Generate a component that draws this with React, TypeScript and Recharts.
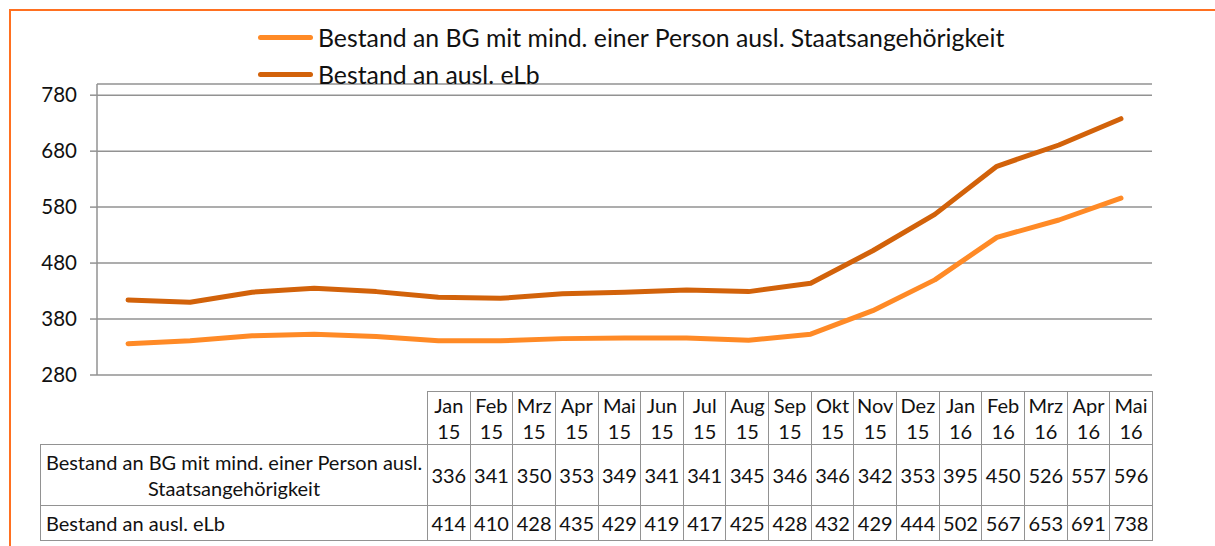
import { CartesianGrid, Line, LineChart, XAxis, YAxis } from "recharts";

const months = [
  "Jan 15", "Feb 15", "Mrz 15", "Apr 15", "Mai 15", "Jun 15", "Jul 15", "Aug 15", "Sep 15",
  "Okt 15", "Nov 15", "Dez 15", "Jan 16", "Feb 16", "Mrz 16", "Apr 16", "Mai 16",
];
const bgValues = [336, 341, 350, 353, 349, 341, 341, 345, 346, 346, 342, 353, 395, 450, 526, 557, 596];
const elbValues = [414, 410, 428, 435, 429, 419, 417, 425, 428, 432, 429, 444, 502, 567, 653, 691, 738];
const yTicks = [280, 380, 480, 580, 680, 780];

const series = [
  { key: "bg", name: "Bestand an BG mit mind. einer Person ausl. Staatsangehörigkeit", color: "#FF8A26", values: bgValues },
  { key: "elb", name: "Bestand an ausl. eLb", color: "#D2620A", values: elbValues },
];

const data = months.map((month, i) => ({ month, bg: bgValues[i], elb: elbValues[i] }));

const FONT = "Lato, 'Open Sans', sans-serif";
const GRID = "#929292";

function ChartLegend() {
  return (
    <div style={{ position: "absolute", left: 258, top: 19, fontFamily: FONT, fontSize: 24.8, color: "#111" }}>
      {series.map((s) => (
        <div key={s.key} style={{ display: "flex", alignItems: "center", height: 37 }}>
          <div style={{ width: 55, height: 5, borderRadius: 3, background: s.color, marginRight: 5 }} />
          <span>{s.name}</span>
        </div>
      ))}
    </div>
  );
}

function DataTable() {
  const cell: React.CSSProperties = {
    border: `1.5px solid ${GRID}`,
    padding: 0,
    textAlign: "center",
  };
  return (
    <table
      style={{
        position: "absolute",
        left: 40,
        top: 391,
        borderCollapse: "collapse",
        tableLayout: "fixed",
        fontFamily: FONT,
        fontSize: 20,
        color: "#111",
        lineHeight: "26px",
      }}
    >
      <colgroup>
        <col style={{ width: 387 }} />
        {months.map((m) => (
          <col key={m} style={{ width: 42.65 }} />
        ))}
      </colgroup>
      <tbody>
        <tr style={{ height: 51 }}>
          <td style={{ border: "none" }} />
          {months.map((m) => {
            const [mon, yr] = m.split(" ");
            return (
              <td key={m} style={cell}>
                {mon}
                <br />
                {yr}
              </td>
            );
          })}
        </tr>
        <tr style={{ height: 61 }}>
          <td style={{ ...cell, padding: "0 2px", whiteSpace: "pre-line" }}>
            {series[0].name.replace(" Staats", "\nStaats")}
          </td>
          {bgValues.map((v, i) => (
            <td key={i} style={cell}>{v}</td>
          ))}
        </tr>
        <tr style={{ height: 35 }}>
          <td style={{ ...cell, textAlign: "left", padding: "0 5px" }}>{series[1].name}</td>
          {elbValues.map((v, i) => (
            <td key={i} style={cell}>{v}</td>
          ))}
        </tr>
      </tbody>
    </table>
  );
}

export default function App() {
  return (
    <div style={{ position: "absolute", left: 0, top: 0, width: 1215, height: 546, background: "#fff", overflow: "hidden" }}>
      <div
        style={{
          position: "absolute",
          left: 9,
          top: 9,
          width: 1400,
          height: 800,
          border: "2px solid #FF7020",
        }}
      />
      <LineChart
        width={1215}
        height={546}
        data={data}
        margin={{ top: 84, right: 63, bottom: 171, left: 10 }}
        style={{ position: "absolute", left: 0, top: 0 }}
      >
        <CartesianGrid vertical={false} stroke={GRID} strokeWidth={1.5} />
        <XAxis dataKey="month" hide scale="band" />
        <YAxis
          domain={[280, 800]}
          ticks={yTicks}
          width={87}
          tickSize={7}
          tickMargin={13}
          axisLine={{ stroke: GRID, strokeWidth: 1.5 }}
          tickLine={{ stroke: GRID, strokeWidth: 1.5 }}
          tick={{ fill: "#111", fontSize: 20.5, fontFamily: FONT }}
        />
        {series.map((s) => (
          <Line
            key={s.key}
            type="linear"
            dataKey={s.key}
            name={s.name}
            stroke={s.color}
            strokeWidth={5}
            strokeLinecap="round"
            strokeLinejoin="round"
            dot={false}
            activeDot={false}
            isAnimationActive={false}
          />
        ))}
      </LineChart>
      <ChartLegend />
      <DataTable />
    </div>
  );
}
